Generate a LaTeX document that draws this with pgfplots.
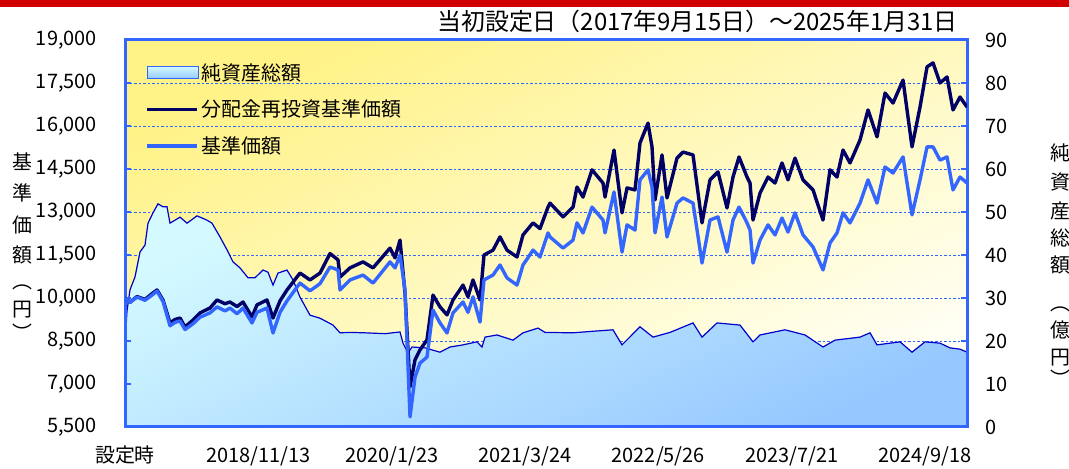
\documentclass[border=0pt]{standalone}
\usepackage{pgfplots}
\pgfplotsset{compat=1.18}
\usepackage{fontspec}
\setmainfont{Noto Sans CJK JP}
\definecolor{axisblue}{RGB}{51,102,255}
\definecolor{navyline}{RGB}{0,0,102}
\definecolor{navline}{RGB}{0,0,204}
\definecolor{redbar}{RGB}{208,0,0}
\definecolor{areatop}{RGB}{212,250,255}
\definecolor{areabot}{RGB}{150,200,255}
\definecolor{bgtop}{RGB}{255,242,135}
\definecolor{bgbot}{RGB}{255,255,245}
\pgfplotsset{layers/mylayers/.define layer set={axis background,axis grid,pre main,main,axis ticks,axis lines,axis tick labels,axis descriptions,axis foreground}{}}
\pgfplotsset{
  common/.style={
    set layers=mylayers,
    at={(125bp,42bp)}, anchor=south west,
    scale only axis, width=842bp, height=387bp,
    xmin=0, xmax=842,
    axis line style={draw=axisblue, line width=3bp},
    tick align=inside,
    major tick length=6bp,
    tick style={draw=axisblue, line width=2bp},
    tick label style={font=\fontsize{20}{24}\selectfont, inner sep=0pt},
    /pgf/number format/assume math mode=true,
  }
}
\begin{document}
\begin{tikzpicture}[x=1bp,y=1bp]
\begin{axis}[common,
  ymin=0, ymax=90,
  ytick={0,10,...,90},
  ytick pos=right,
  yticklabel pos=right,
  yticklabel style={anchor=west, xshift=18bp},
  xtick={0,133.3,266.7,400,533.3,666.7,800},
  xticklabels={\raisebox{-5bp}{設定時},2018/11/13,2020/1/23,2021/3/24,2022/5/26,2023/7/21,2024/9/18},
  xtick pos=bottom,
  xticklabel style={anchor=north, yshift=-19bp},
  ymajorgrids,
  major grid style={draw=axisblue, line width=0.9bp, dash pattern=on 2.5bp off 2bp},
  axis background/.style={shade, top color=bgtop, bottom color=bgbot, shading angle=25},
]
\addplot[draw=navline, line width=1.2bp, top color=areatop, bottom color=areabot, shading angle=25] coordinates {
(0,19)(2,27)(5,31.9)(10,34.9)(15,40.7)(20,42.3)(23,47.4)(28,49.8)(33,51.9)(38,51.2)(42,51.2)(45,47.4)(50,48.1)(55,48.8)(62,47.4)(72,49.1)(82,48.1)(87,47.4)(95,44.2)(102,41.2)(108,38.4)(115,37.0)(123,34.7)(130,34.7)(138,36.5)(143,36.0)(148,33.0)(153,35.8)(162,36.5)(168,34.2)(175,30.2)(185,26.0)(195,25.3)(208,23.7)(215,21.9)(225,22.0)(240,21.9)(260,21.7)(275,22.1)(278,19.5)(283,17.2)(287,18.6)(300,18.4)(315,17.4)(325,18.6)(338,19.1)(352,19.8)(357,18.6)(360,20.9)(372,21.4)(388,20.2)(398,21.9)(413,23.0)(420,22.0)(448,21.9)(470,22.3)(488,22.6)(497,19.1)(515,23.3)(528,20.9)(545,22.0)(568,24.2)(577,20.9)(592,24.2)(615,23.7)(628,19.8)(635,21.4)(660,22.6)(680,21.4)(698,18.6)(710,20.2)(735,20.9)(745,21.9)(752,19.1)(775,19.8)(787,17.4)(800,19.8)(815,19.5)(825,18.4)(835,18.1)(842,17.4)
} \closedcycle;
\end{axis}
\begin{axis}[common,
  ymin=5500, ymax=19000,
  ytick={5500,7000,...,19000},
  scaled y ticks=false,
  ytick pos=left,
  yticklabel style={anchor=east, xshift=-28bp, /pgf/number format/1000 sep={,}},
  xtick=\empty,
  legend style={at={(0.024,0.94)}, anchor=north west, draw=none, fill=none,
    font=\fontsize{20}{24}\selectfont, row sep=18.5bp, inner sep=0pt,
    nodes={inner xsep=3bp, inner ysep=0bp, anchor=west}},
  legend cell align=left,
  legend image code/.code={\draw[#1] (0bp,0bp) -- (50bp,0bp);},
]
\addlegendimage{legend image code/.code={\draw[draw=axisblue, line width=1bp, top color=areatop, bottom color=areabot] (0bp,-6bp) rectangle (51bp,6bp);}}
\addlegendentry{純資産総額}
\addplot[draw=navyline, line width=3.4bp, line join=round] coordinates {
(0,10000)(5,9850)(12,10050)(20,9950)(27,10150)(32,10280)(38,9930)(45,9130)(50,9250)(55,9300)(60,8990)(68,9230)(75,9480)(85,9650)(92,9930)(100,9800)(105,9860)(112,9700)(118,9860)(127,9340)(132,9760)(142,9930)(148,9300)(155,9900)(162,10280)(175,10870)(185,10630)(195,10870)(205,11550)(213,11330)(215,10730)(225,11050)(238,11260)(248,11050)(265,11740)(270,11400)(275,12020)(280,10170)(285,6900)(290,7840)(295,8190)(302,8540)(308,10100)(315,9690)(322,9410)(328,9930)(338,10450)(343,10040)(348,10630)(355,9930)(359,11500)(368,11670)(375,12130)(382,11670)(392,11430)(398,12200)(408,12620)(415,12420)(423,13170)(425,13310)(438,12830)(448,13170)(452,13870)(458,13520)(467,14470)(478,14010)(480,13520)(489,15160)(497,12970)(502,13840)(510,13770)(515,15410)(523,16100)(527,15270)(530,13420)(537,14990)(542,13490)(552,14880)(558,15090)(568,14990)(577,12620)(585,14120)(593,14400)(602,13140)(608,14220)(614,14920)(622,14220)(625,14010)(628,12720)(635,13660)(643,14220)(650,14010)(657,14710)(663,14120)(670,14880)(678,14120)(688,13770)(698,12720)(705,14470)(712,14220)(718,15160)(725,14710)(735,15510)(743,16560)(752,15620)(760,17150)(768,16800)(778,17600)(787,15270)(795,16660)(802,18060)(808,18200)(815,17500)(822,17710)(828,16560)(835,17010)(842,16660)
};
\addlegendentry{分配金再投資基準価額}
\addplot[draw=axisblue, line width=3.4bp, line join=round] coordinates {
(0,10000)(5,9850)(12,10030)(20,9920)(27,10100)(32,10240)(38,9880)(45,9030)(50,9150)(55,9200)(60,8900)(68,9100)(75,9330)(85,9480)(92,9690)(100,9550)(105,9650)(112,9450)(118,9650)(127,9130)(132,9500)(142,9650)(148,8780)(155,9500)(162,9900)(175,10520)(185,10250)(195,10500)(205,11080)(213,10980)(215,10280)(225,10630)(238,10800)(248,10520)(265,11260)(270,11050)(275,11500)(280,10280)(285,5850)(290,7240)(295,7730)(302,7940)(308,9580)(315,9130)(322,8780)(328,9480)(338,9860)(343,9500)(348,10040)(355,9160)(359,10630)(368,10800)(375,11150)(382,10700)(392,10450)(398,11150)(408,11670)(415,11430)(423,12270)(425,12130)(438,11740)(448,12020)(452,12620)(458,12270)(467,13170)(478,12720)(480,12270)(489,13700)(497,11600)(502,12550)(510,12370)(515,14120)(523,14470)(527,13870)(530,12270)(537,13520)(542,12130)(552,13310)(558,13490)(568,13310)(577,11220)(585,12720)(593,12830)(602,11600)(608,12720)(614,13170)(622,12620)(625,12370)(628,11220)(635,12020)(643,12550)(650,12200)(657,12790)(663,12300)(670,12970)(678,12200)(688,11780)(698,10980)(705,11920)(712,12270)(718,12970)(725,12620)(735,13310)(743,14120)(752,13310)(760,14570)(768,14360)(778,14920)(787,12900)(795,14120)(802,15270)(808,15270)(815,14810)(822,14920)(828,13770)(835,14220)(842,14010)
};
\addlegendentry{基準価額}
\end{axis}
\fill[redbar] (0,462) rectangle (1069,469);
\node[anchor=east, font=\fontsize{24}{28}\selectfont, inner sep=0pt] at (958,448) {当初設定日（2017年9月15日）～2025年1月31日};
\foreach \c/\yy in {基/307, 準/276, 価/244, 額/214, ︵/182, 円/159, ︶/137}{
  \node[font=\fontsize{20}{24}\selectfont, inner sep=0pt] at (22,\yy) {\c};
}
\foreach \c/\yy in {純/316, 資/287, 産/258, 総/231, 額/204, ︵/160, 億/139, 円/111, ︶/91}{
  \node[font=\fontsize{20}{24}\selectfont, inner sep=0pt] at (1060,\yy) {\c};
}
\pgfresetboundingbox
\useasboundingbox (0,0) rectangle (1069,469);
\end{tikzpicture}
\end{document}
